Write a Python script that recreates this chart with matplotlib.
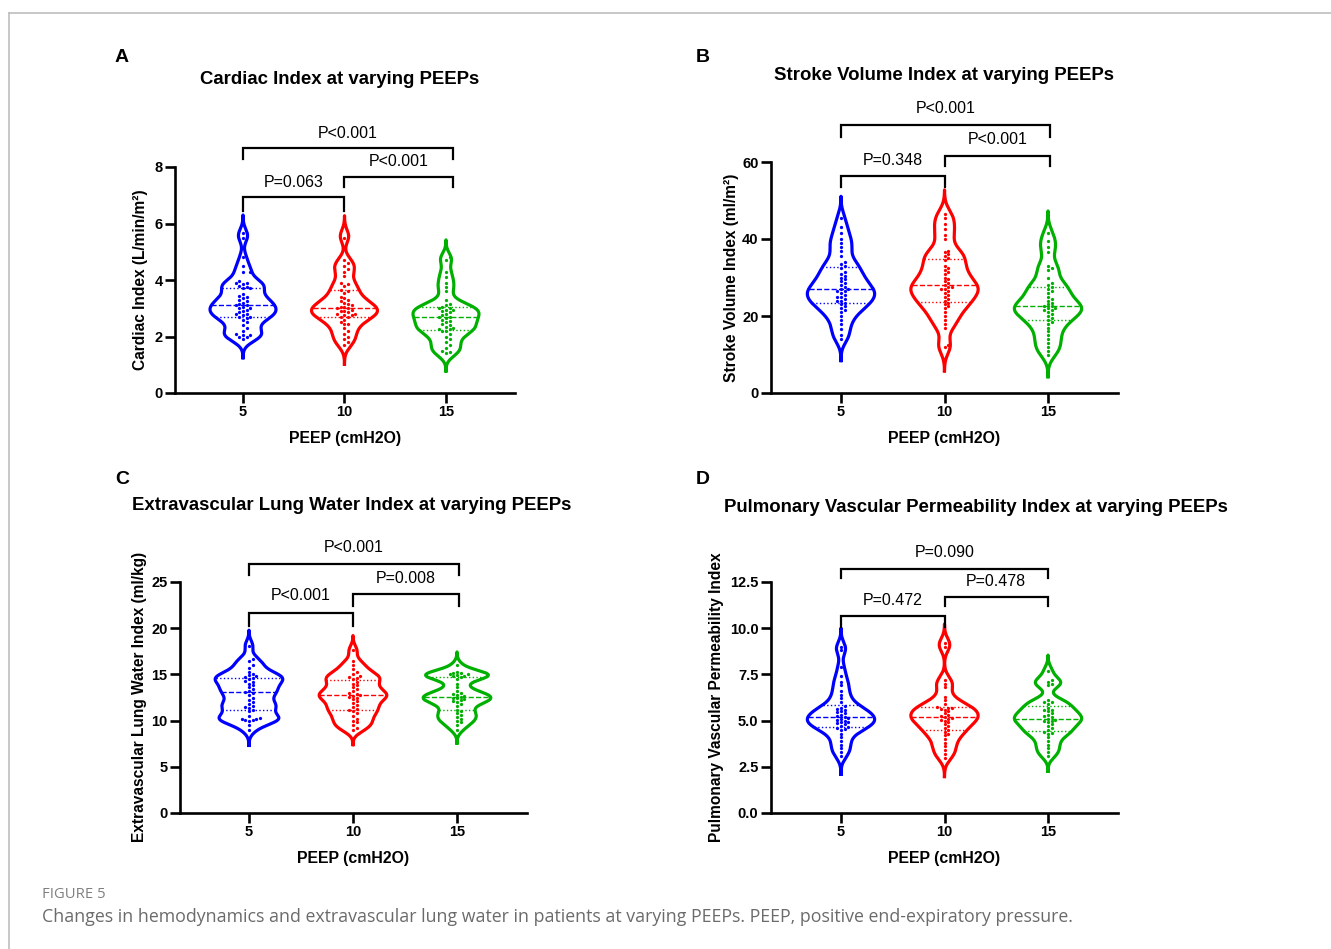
import numpy as np
import matplotlib.pyplot as plt
from matplotlib.mlab import GaussianKDE
from matplotlib.lines import Line2D

plt.rcParams['font.family'] = ['Liberation Sans', 'DejaVu Sans']

# groups and colours
peep = ['5', '10', '15']
colors = ['#0000ff', '#ff0000', '#00b000']

# Cardiac index (L/min/m2)
ci_5 = [5.65, 5.5, 4.8, 4.5, 4.3, 4.3, 3.95, 3.9, 3.9, 3.85, 3.8, 3.75, 3.7, 3.7, 3.5, 3.45, 3.4, 3.35,
        3.3, 3.25, 3.2, 3.15, 3.1, 3.1, 3.05, 3.0, 3.0, 2.95, 2.9, 2.85, 2.8, 2.8, 2.75, 2.7, 2.7, 2.65,
        2.6, 2.5, 2.4, 2.3, 2.2, 2.1, 2.05, 2.05, 2.0, 2.0, 1.9]
ci_10 = [5.6, 5.5, 4.7, 4.6, 4.5, 4.4, 4.3, 4.15, 3.9, 3.85, 3.8, 3.65, 3.6, 3.55, 3.4, 3.35, 3.3, 3.25,
         3.2, 3.15, 3.1, 3.05, 3.05, 3.0, 3.0, 2.95, 2.9, 2.9, 2.85, 2.8, 2.8, 2.75, 2.75, 2.7, 2.7, 2.6,
         2.5, 2.45, 2.45, 2.3, 2.2, 2.1, 2.0, 1.9, 1.8, 1.7]
ci_15 = [4.8, 4.7, 4.3, 4.1, 3.9, 3.75, 3.6, 3.3, 3.15, 3.1, 3.05, 3.0, 3.0, 2.95, 2.95, 2.9, 2.85,
         2.8, 2.75, 2.7, 2.7, 2.65, 2.6, 2.55, 2.5, 2.45, 2.4, 2.35, 2.3, 2.25, 2.25, 2.2, 2.2, 2.1, 2.0,
         1.9, 1.8, 1.7, 1.6, 1.5, 1.45, 1.4]

# Stroke volume index (ml/m2)
svi_5 = [45.5, 43, 41.5, 40, 39, 38, 37, 35.5, 34, 33.5, 33, 32.5, 31.5, 31, 30.5, 30, 29.5, 29, 28.5,
         28, 27.5, 27, 27, 26.5, 26.5, 26, 25.5, 25, 25, 24.5, 24, 24, 23.5, 23, 22.5, 22, 21.5, 21, 20,
         19, 18, 16.5, 15, 14]
svi_10 = [46.5, 45.5, 44, 42.5, 41, 40, 37, 36.5, 36, 35.5, 35, 34.5, 33, 32.5, 32, 31.5, 31, 30, 29.5,
          29, 28.5, 28, 27.5, 27.5, 27, 27, 26.5, 26, 25.5, 25, 24.5, 24, 23.5, 23, 22.5, 22, 21, 20, 19,
          18, 17, 12.5, 12]
svi_15 = [41.5, 39.5, 38, 36.5, 33, 32.5, 32, 30, 28.5, 28, 27.5, 27, 26.5, 26, 25, 24.5, 24, 23.5, 23,
          22.5, 22.5, 22, 22, 21.5, 21.5, 21, 20.5, 20, 19.5, 19, 18.5, 18, 17, 16, 15, 14, 13, 12, 11,
          10]

# Extravascular lung water index (ml/kg)
evlwi_5 = [18.1, 16.7, 16.4, 16.0, 15.7, 15.3, 15.0, 14.9, 14.8, 14.7, 14.6, 14.5, 14.3, 14.2, 14.0, 13.8,
           13.6, 13.4, 13.2, 13.1, 13.0, 12.8, 12.5, 12.2, 12.0, 11.8, 11.6, 11.5, 11.4, 11.2, 11.0, 10.5,
           10.3, 10.2, 10.2, 10.1, 10.1, 10.0, 9.5, 9.0]
evlwi_10 = [17.6, 16.4, 16.0, 15.6, 15.3, 15.0, 14.8, 14.7, 14.6, 14.5, 14.2, 14.0, 13.8, 13.6, 13.4, 13.2,
            13.0, 12.9, 12.8, 12.7, 12.6, 12.5, 12.3, 12.1, 11.9, 11.7, 11.5, 11.3, 11.1, 11.0, 10.8, 10.5,
            10.2, 10.0, 9.8, 9.5, 9.2, 9.0]
evlwi_15 = [16.0, 15.3, 15.2, 15.1, 15.0, 15.0, 14.9, 14.8, 14.8, 14.7, 14.5, 14.0, 13.6, 13.2, 13.0,
            12.9, 12.8, 12.7, 12.6, 12.5, 12.4, 12.3, 12.2, 12.1, 12.0, 11.8, 11.6, 11.2, 11.0, 10.8, 10.6,
            10.4, 10.2, 10.0, 9.8, 9.5, 9.0]

# Pulmonary vascular permeability index
pvpi_5 = [9.0, 8.8, 7.9, 7.4, 7.1, 6.9, 6.6, 6.4, 6.2, 6.0, 5.8, 5.7, 5.65, 5.6, 5.5, 5.45, 5.4, 5.3,
          5.25, 5.2, 5.15, 5.1, 5.05, 5.0, 4.95, 4.9, 4.85, 4.8, 4.7, 4.65, 4.6, 4.55, 4.5, 4.3, 4.1, 3.9,
          3.7, 3.5, 3.3, 3.1]
pvpi_10 = [9.2, 9.0, 7.2, 7.0, 6.8, 6.3, 6.1, 5.9, 5.75, 5.7, 5.7, 5.65, 5.6, 5.5, 5.4, 5.3, 5.25,
           5.2, 5.15, 5.1, 5.05, 5.0, 4.9, 4.8, 4.7, 4.6, 4.5, 4.4, 4.3, 4.2, 4.0, 3.8, 3.6, 3.4, 3.2, 3.0]
pvpi_15 = [7.7, 7.2, 7.1, 7.0, 6.9, 6.1, 6.0, 6.0, 5.9, 5.7, 5.6, 5.6, 5.5, 5.4, 5.3, 5.25, 5.2, 5.1,
           5.05, 5.0, 5.0, 4.9, 4.8, 4.7, 4.6, 4.5, 4.4, 4.35, 4.3, 4.1, 3.9, 3.7, 3.5, 3.3, 3.1]

# p-values: (5 vs 10, 10 vs 15, 5 vs 15)
p_ci = ['P=0.063', 'P<0.001', 'P<0.001']
p_svi = ['P=0.348', 'P<0.001', 'P<0.001']
p_evlwi = ['P<0.001', 'P=0.008', 'P<0.001']
p_pvpi = ['P=0.472', 'P=0.478', 'P=0.090']

titles = ['Cardiac Index at varying PEEPs', 'Stroke Volume Index at varying PEEPs',
          'Extravascular Lung Water Index at varying PEEPs',
          'Pulmonary Vascular Permeability Index at varying PEEPs']
ylabels = ['Cardiac Index (L/min/m²)', 'Stroke Volume Index (ml/m²)',
           'Extravascular Lung Water Index (ml/kg)', 'Pulmonary Vascular Permeability Index']

W = 1331
H = 949
BW = 0.25      # kde bandwidth factor
CUT = 3.0      # how far the violin runs past the data, in bandwidths
VW = 0.65


def fx(px):
    return px / W


def fy(py):
    return 1 - py / H


def swarm(ax, vals, pos, color):
    # simple beeswarm in pixel space
    d = 3.6
    vals = np.sort(np.asarray(vals, float))
    pix = ax.transData.transform(np.column_stack([np.full(len(vals), pos), vals]))
    placed = []
    for x0, y0 in pix:
        k = 0
        while True:
            off = ((k + 1) // 2) * d * (1 if k % 2 else -1)
            cx = x0 + off
            if all((cx - px) ** 2 + (y0 - py) ** 2 >= d * d for px, py in placed):
                break
            k += 1
        placed.append((cx, y0))
    dat = ax.transData.inverted().transform(np.array(placed))
    ax.scatter(dat[:, 0], dat[:, 1], s=5.5, color=color, lw=0, zorder=3)


def violin_panel(ax, groups, xlim, ylim, yticks, ytl, ylab, pvals, brackets, roff=0.0):
    ax.set_xlim(*xlim)
    ax.set_ylim(*ylim)
    for i, (g, c) in enumerate(zip(groups, colors)):
        g = np.asarray(g, float)
        kde = GaussianKDE(g, BW)
        bw = BW * g.std(ddof=1)
        coords = np.linspace(g.min() - CUT * bw, g.max() + CUT * bw, 400)
        dens = kde.evaluate(coords)
        dmax = dens.max()
        w = VW / 2 * dens / dmax
        ax.plot(np.r_[i - w, (i + w)[::-1], i - w[0]], np.r_[coords, coords[::-1], coords[0]],
                color=c, lw=2.3, solid_joinstyle='round', zorder=2)
        q1, med, q3 = np.percentile(g, [25, 50, 75])
        for q, ls in [(q1, ':'), (med, '--'), (q3, ':')]:
            hw = VW / 2 * kde.evaluate(np.array([q]))[0] / dmax
            ax.plot([i - hw, i + hw], [q, q], ls=ls, color=c, lw=1.0, zorder=2)
        swarm(ax, g, i, c)

    ax.spines['top'].set_visible(False)
    ax.spines['right'].set_visible(False)
    for s in ['left', 'bottom']:
        ax.spines[s].set_linewidth(1.9)
    ax.set_xticks([0, 1, 2])
    ax.set_xticklabels(peep)
    ax.set_yticks(yticks)
    ax.set_yticklabels(ytl)
    ax.tick_params(width=1.9, length=7, labelsize=10.5, pad=2)
    for lab in ax.get_xticklabels() + ax.get_yticklabels():
        lab.set_fontweight('bold')
    ax.set_xlabel('PEEP (cmH2O)', fontsize=11.4, fontweight='bold', labelpad=8)
    ax.set_ylabel(ylab, fontsize=11.2, fontweight='bold')

    # significance brackets
    pairs = [(0, 1), (1, 2), (0, 2)]
    for (a, b), txt, (yt, yb, ytxt) in zip(pairs, pvals, brackets):
        xb = b + (roff if b == 2 else 0)
        ax.plot([a, a, xb, xb], [yb, yt, yt, yb], color='black', lw=1.6,
                clip_on=False, solid_joinstyle='miter')
        ax.text((a + xb) / 2, ytxt, txt, ha='center', va='center', fontsize=11.5,
                clip_on=False)


fig = plt.figure(figsize=(W / 100, H / 100), dpi=100)

axA = fig.add_axes([fx(175), fy(393), fx(515) - fx(175), fy(167) - fy(393)])
axB = fig.add_axes([fx(771), fy(393), fx(1118) - fx(771), fy(162) - fy(393)])
axC = fig.add_axes([fx(180), fy(813), fx(527) - fx(180), fy(582) - fy(813)])
axD = fig.add_axes([fx(771), fy(813), fx(1118) - fx(771), fy(582) - fy(813)])

violin_panel(axA, [ci_5, ci_10, ci_15], (-0.67, 2.68), (0, 8), [0, 2, 4, 6, 8],
             ['0', '2', '4', '6', '8'], ylabels[0], p_ci,
             [(6.94, 6.45, 7.45), (7.65, 7.3, 8.2), (8.67, 8.3, 9.2)], roff=0.07)
violin_panel(axB, [svi_5, svi_10, svi_15], (-0.676, 2.676), (0, 60), [0, 20, 40, 60],
             ['0', '20', '40', '60'], ylabels[1], p_svi,
             [(56.4, 53.5, 60.5), (61.6, 59.0, 65.8), (69.6, 66.5, 73.8)], roff=0.02)
violin_panel(axC, [evlwi_5, evlwi_10, evlwi_15], (-0.663, 2.673), (0, 25), [0, 5, 10, 15, 20, 25],
             ['0', '5', '10', '15', '20', '25'], ylabels[2], p_evlwi,
             [(21.6, 20.2, 23.5), (23.7, 22.4, 25.4), (26.9, 25.8, 28.7)], roff=0.02)
violin_panel(axD, [pvpi_5, pvpi_10, pvpi_15], (-0.676, 2.676), (0, 12.5), [0, 2.5, 5, 7.5, 10, 12.5],
             ['0.0', '2.5', '5.0', '7.5', '10.0', '12.5'], ylabels[3], p_pvpi,
             [(10.66, 10.06, 11.5), (11.7, 11.2, 12.55), (13.2, 12.7, 14.1)])

# ylabel anchor is the right edge of the rotated text
for ax, lx, ly in [(axA, 148, 280), (axB, 739, 278), (axC, 147, 697), (axD, 724, 697)]:
    ax.yaxis.set_label_coords(fx(lx), fy(ly), transform=fig.transFigure)

# titles and panel letters
fig.text(fx(340), fy(80), titles[0], ha='center', va='center', fontsize=13.4, fontweight='bold')
fig.text(fx(944), fy(76), titles[1], ha='center', va='center', fontsize=13.4, fontweight='bold')
fig.text(fx(352), fy(506), titles[2], ha='center', va='center', fontsize=13.4, fontweight='bold')
fig.text(fx(976), fy(507), titles[3], ha='center', va='center', fontsize=13.4, fontweight='bold')
for lt, x, y in [('A', 122, 57), ('B', 703, 57), ('C', 122, 479), ('D', 703, 479)]:
    fig.text(fx(x), fy(y), lt, ha='center', va='center', fontsize=14, fontweight='bold')

# page frame and caption
fig.add_artist(Line2D([fx(8.5), 1], [fy(12.5), fy(12.5)], color='#bdbdbd', lw=1.2))
fig.add_artist(Line2D([fx(8.5), fx(8.5)], [0, fy(12.5)], color='#bdbdbd', lw=1.2))
fig.text(fx(42), fy(894), 'FIGURE 5', ha='left', va='center', fontsize=10.7, color='#808080',
         family=['Open Sans', 'DejaVu Sans'])
fig.text(fx(42), fy(917), 'Changes in hemodynamics and extravascular lung water in patients at varying PEEPs. '
         'PEEP, positive end-expiratory pressure.', ha='left', va='center', fontsize=12.8,
         color='#6b6b6b', family=['Open Sans', 'DejaVu Sans'])

fig.savefig('out.png', dpi=100)
